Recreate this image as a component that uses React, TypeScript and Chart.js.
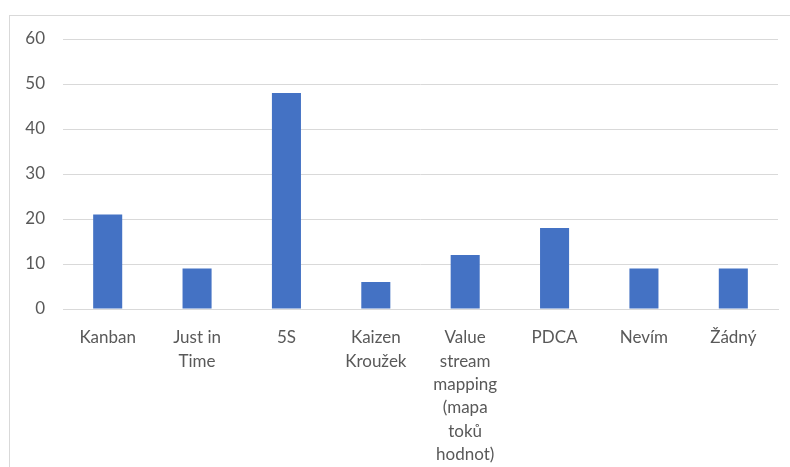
import React, { useEffect, useRef } from "react";
import { Chart, registerables } from "chart.js";

Chart.register(...registerables);

const categories: (string | string[])[] = [
  "Kanban",
  ["Just in", "Time"],
  "5S",
  ["Kaizen", "Kroužek"],
  ["Value", "stream", "mapping", "(mapa", "toků", "hodnot)"],
  "PDCA",
  "Nevím",
  "Žádný",
];
const values: number[] = [21, 9, 48, 6, 12, 18, 9, 9];
const yMin = 0;
const yMax = 60;
const yStep = 10;

export default function App() {
  const ref = useRef<HTMLCanvasElement | null>(null);

  useEffect(() => {
    if (!ref.current) return;
    const font = { family: "Lato, 'Noto Sans', sans-serif", size: 17 };
    const chart = new Chart(ref.current, {
      type: "bar",
      data: {
        labels: categories,
        datasets: [
          {
            data: values,
            backgroundColor: "#4472C4",
            borderWidth: 0,
            barPercentage: 0.325,
            categoryPercentage: 1,
          },
        ],
      },
      options: {
        animation: false,
        responsive: false,
        maintainAspectRatio: false,
        layout: { padding: { top: 39, right: 12, left: 0, bottom: 0 } },
        plugins: { legend: { display: false }, tooltip: { enabled: false } },
        scales: {
          x: {
            grid: { display: false },
            border: { display: true, color: "#d9d9d9", width: 1 },
            ticks: {
              color: "#595959",
              font: { ...font, lineHeight: 1.376 },
              padding: 9,
              maxRotation: 0,
              autoSkip: false,
            },
            afterFit: (axis: any) => {
              axis.height = 158;
            },
          },
          y: {
            min: yMin,
            max: yMax,
            grid: { color: "#d9d9d9", drawTicks: false, lineWidth: 1 },
            border: { display: false },
            ticks: {
              stepSize: yStep,
              color: "#595959",
              font,
              padding: 18,
            },
            afterFit: (axis: any) => {
              axis.width = 63;
            },
          },
        },
      },
    });
    return () => chart.destroy();
  }, []);

  return (
    <div style={{ position: "fixed", left: 0, top: 0, width: 790, height: 467, background: "#fff", overflow: "hidden" }}>
      <div
        style={{
          position: "absolute",
          left: 9,
          top: 15,
          width: 820,
          height: 520,
          border: "1px solid #d9d9d9",
          boxSizing: "border-box",
        }}
      />
      <canvas ref={ref} width={790} height={467} style={{ position: "absolute", left: 0, top: 0 }} />
    </div>
  );
}
